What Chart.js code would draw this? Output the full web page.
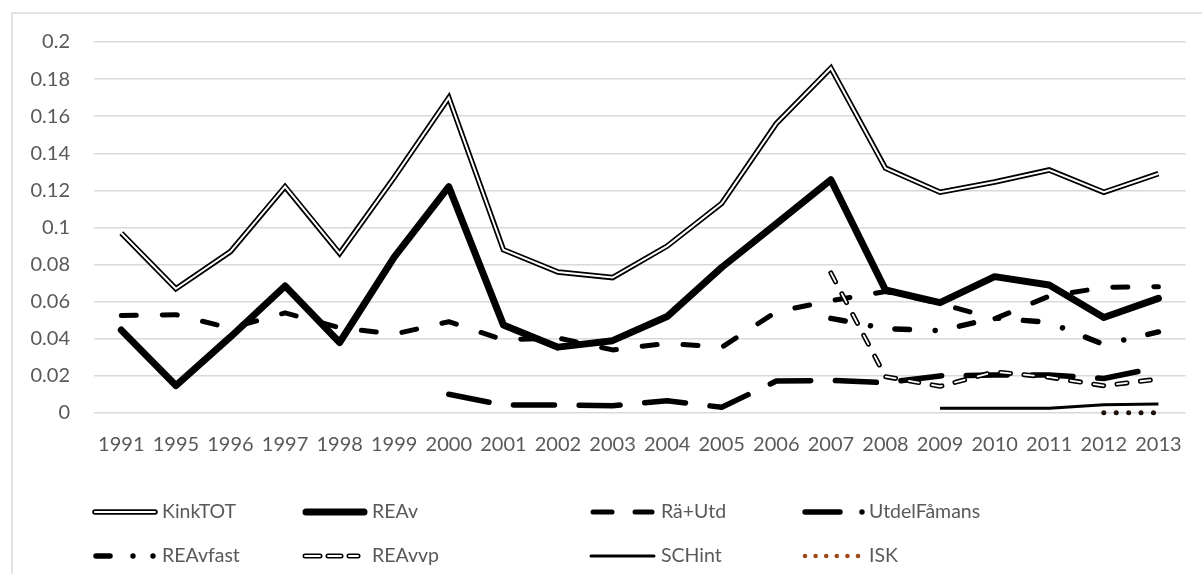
<!DOCTYPE html>
<html>
<head>
<meta charset="utf-8">
<title>KinkTOT</title>
<script src="https://cdn.jsdelivr.net/npm/chart.js@4.4.0/dist/chart.umd.min.js"></script>
<style>
  html, body { margin: 0; padding: 0; background: #fff; }
  canvas { display: block; }
</style>
</head>
<body>
<canvas id="chart" width="1202" height="574"></canvas>
<script>
// Data
const years = ['1991', '1995', '1996', '1997', '1998', '1999', '2000', '2001', '2002', '2003',
               '2004', '2005', '2006', '2007', '2008', '2009', '2010', '2011', '2012', '2013'];

const kinkTOT = [0.097, 0.067, 0.087, 0.122, 0.086, 0.127, 0.170, 0.088, 0.076, 0.073,
                 0.090, 0.113, 0.156, 0.186, 0.132, 0.119, 0.1245, 0.131, 0.119, 0.129];
const reAv = [0.0447, 0.0148, 0.041, 0.0685, 0.038, 0.0840, 0.122, 0.0475, 0.0355, 0.039,
              0.052, 0.0785, 0.102, 0.1257, 0.0663, 0.0595, 0.0735, 0.069, 0.0515, 0.0618];
const raUtd = [0.0525, 0.053, 0.0457, 0.054, 0.046, 0.0425, 0.0492, 0.0394, 0.0405, 0.034,
               0.0376, 0.0354, 0.0546, 0.0605, 0.0655, 0.059, 0.0508, 0.063, 0.0677, 0.0681];
const utdelFamans = [null, null, null, null, null, null, 0.0101, 0.0043, 0.0043, 0.0039,
                     0.0066, 0.0031, 0.0172, 0.0176, 0.0163, 0.020, 0.0205, 0.0205, 0.0186, 0.0246];
const reAvFast = [null, null, null, null, null, null, null, null, null, null,
                  null, null, null, 0.051, 0.0455, 0.0444, 0.0512, 0.0488, 0.0369, 0.0437];
const reAvVp = [null, null, null, null, null, null, null, null, null, null,
                null, null, null, 0.0755, 0.0196, 0.0144, 0.0222, 0.0193, 0.0147, 0.0183];
const schInt = [null, null, null, null, null, null, null, null, null, null,
                null, null, null, null, null, 0.0025, 0.0025, 0.0025, 0.0044, 0.0048];
const isk = [null, null, null, null, null, null, null, null, null, null,
             null, null, null, null, null, null, null, null, 0.0002, 0.0002];

const yTickLabels = ['0', '0.02', '0.04', '0.06', '0.08', '0.1', '0.12', '0.14', '0.16', '0.18', '0.2'];

const textColor = '#595959';
const fontFamily = "Lato, 'Open Sans', sans-serif";
const iskColor = '#9e4a16';

function line(label, data, extra) {
    return Object.assign({
        label: label,
        data: data,
        borderColor: '#000',
        backgroundColor: '#000',
        pointRadius: 0,
        pointHoverRadius: 0,
        fill: false,
        tension: 0,
        borderCapStyle: 'round',
        borderJoinStyle: 'round'
    }, extra);
}

// Legend is drawn by hand so the symbols and columns match the Excel layout
const legendCols = [93, 303, 590, 802];
const legendText = [162, 372, 661, 869];
const legendRows = [512, 556];

function seg(ctx, x1, x2, y, width, color, cap) {
    ctx.save();
    ctx.beginPath();
    ctx.lineWidth = width;
    ctx.strokeStyle = color;
    ctx.lineCap = cap || 'round';
    ctx.moveTo(x1, y);
    ctx.lineTo(x2, y);
    ctx.stroke();
    ctx.restore();
}

function dot(ctx, x, y, r, color) {
    ctx.save();
    ctx.beginPath();
    ctx.fillStyle = color;
    ctx.arc(x, y, r, 0, Math.PI * 2);
    ctx.fill();
    ctx.restore();
}

const legendItems = [
    { label: 'KinkTOT', col: 0, row: 0, draw: (ctx, x, y) => {
        seg(ctx, x + 2, x + 62, y, 5.5, '#000');
        seg(ctx, x + 2, x + 62, y, 2, '#fff');
    } },
    { label: 'REAv', col: 1, row: 0, draw: (ctx, x, y) => {
        seg(ctx, x + 3, x + 61, y, 7, '#000');
    } },
    { label: 'Rä+Utd', col: 2, row: 0, draw: (ctx, x, y) => {
        seg(ctx, x + 3, x + 22, y, 5, '#000');
        seg(ctx, x + 45, x + 62, y, 5, '#000');
    } },
    { label: 'UtdelFåmans', col: 3, row: 0, draw: (ctx, x, y) => {
        seg(ctx, x + 3, x + 38, y, 5.5, '#000');
        dot(ctx, x + 60, y, 2.7, '#000');
    } },
    { label: 'REAvfast', col: 0, row: 1, draw: (ctx, x, y) => {
        seg(ctx, x + 3, x + 17, y, 5.5, '#000');
        dot(ctx, x + 40, y, 2.7, '#000');
        dot(ctx, x + 60, y, 2.7, '#000');
    } },
    { label: 'REAvvp', col: 1, row: 1, draw: (ctx, x, y) => {
        [[2, 17], [25, 38], [46, 55]].forEach(p => {
            seg(ctx, x + p[0], x + p[1], y, 5, '#000');
            seg(ctx, x + p[0], x + p[1], y, 1.8, '#fff');
        });
    } },
    { label: 'SCHint', col: 2, row: 1, draw: (ctx, x, y) => {
        seg(ctx, x + 1, x + 64, y, 3, '#000');
    } },
    { label: 'ISK', col: 3, row: 1, draw: (ctx, x, y) => {
        for (let i = 0; i < 6; i++) dot(ctx, x + 3 + i * 10.6, y, 2.3, iskColor);
    } }
];

const framePlugin = {
    id: 'frame',
    beforeDraw(chart) {
        const ctx = chart.ctx;
        ctx.save();
        ctx.fillStyle = '#fff';
        ctx.fillRect(0, 0, chart.width, chart.height);
        ctx.strokeStyle = '#d9d9d9';
        ctx.lineWidth = 1.5;
        ctx.beginPath();
        ctx.moveTo(12, chart.height + 2);
        ctx.lineTo(12, 13);
        ctx.lineTo(chart.width + 2, 13);
        ctx.stroke();
        ctx.restore();
    },
    afterDraw(chart) {
        const ctx = chart.ctx;
        legendItems.forEach(item => {
            const y = legendRows[item.row];
            item.draw(ctx, legendCols[item.col], y);
            ctx.save();
            ctx.font = '19.5px ' + fontFamily;
            ctx.fillStyle = textColor;
            ctx.textBaseline = 'middle';
            ctx.textAlign = 'left';
            ctx.fillText(item.label, legendText[item.col], y);
            ctx.restore();
        });
    }
};

const ctx = document.getElementById('chart').getContext('2d');
new Chart(ctx, {
    type: 'line',
    data: {
        labels: years,
        datasets: [
            line('KinkTOT', kinkTOT, { borderWidth: 5.5, borderJoinStyle: 'miter', borderCapStyle: 'butt', order: 20 }),
            line('KinkTOT inner', kinkTOT, { borderColor: '#fff', borderWidth: 2, borderJoinStyle: 'miter', borderCapStyle: 'butt', order: 19 }),
            line('REAv', reAv, { borderWidth: 7, order: 18 }),
            line('Rä+Utd', raUtd, { borderWidth: 5, borderDash: [15, 26], order: 17 }),
            line('UtdelFåmans', utdelFamans, { borderWidth: 5.5, borderDash: [41, 24.7], order: 16 }),
            line('REAvfast', reAvFast, { borderWidth: 5.5, borderDash: [14.5, 25.75, 0.01, 24.74], order: 15 }),
            line('REAvvp', reAvVp, { borderWidth: 5, borderDash: [10, 13.5], order: 14 }),
            line('REAvvp inner', reAvVp, { borderColor: '#fff', borderWidth: 1.8, borderDash: [10, 13.5], order: 13 }),
            line('SCHint', schInt, { borderWidth: 3, borderCapStyle: 'butt', order: 12 }),
            line('ISK', isk, { borderColor: '#1e1008', borderWidth: 5, borderDash: [0.01, 12.4], clip: false, order: 11 })
        ]
    },
    options: {
        responsive: false,
        animation: false,
        devicePixelRatio: 1,
        events: [],
        layout: { padding: { top: 42, right: 16, left: 0, bottom: 0 } },
        plugins: {
            legend: { display: false },
            tooltip: { enabled: false }
        },
        scales: {
            x: {
                type: 'category',
                offset: true,
                grid: { display: false, drawTicks: false },
                border: { display: false },
                ticks: {
                    color: textColor,
                    font: { family: fontFamily, size: 20 },
                    padding: 20,
                    maxRotation: 0,
                    autoSkip: false
                },
                afterFit(scale) { scale.height = 161; }
            },
            y: {
                min: 0,
                max: 0.2,
                grid: { color: '#d9d9d9', lineWidth: 1.5, drawTicks: false },
                border: { display: false },
                ticks: {
                    stepSize: 0.02,
                    color: textColor,
                    font: { family: fontFamily, size: 20 },
                    padding: 24,
                    callback: (value, index) => yTickLabels[index]
                },
                afterFit(scale) { scale.width = 94; }
            }
        }
    },
    plugins: [framePlugin]
});
</script>
</body>
</html>
